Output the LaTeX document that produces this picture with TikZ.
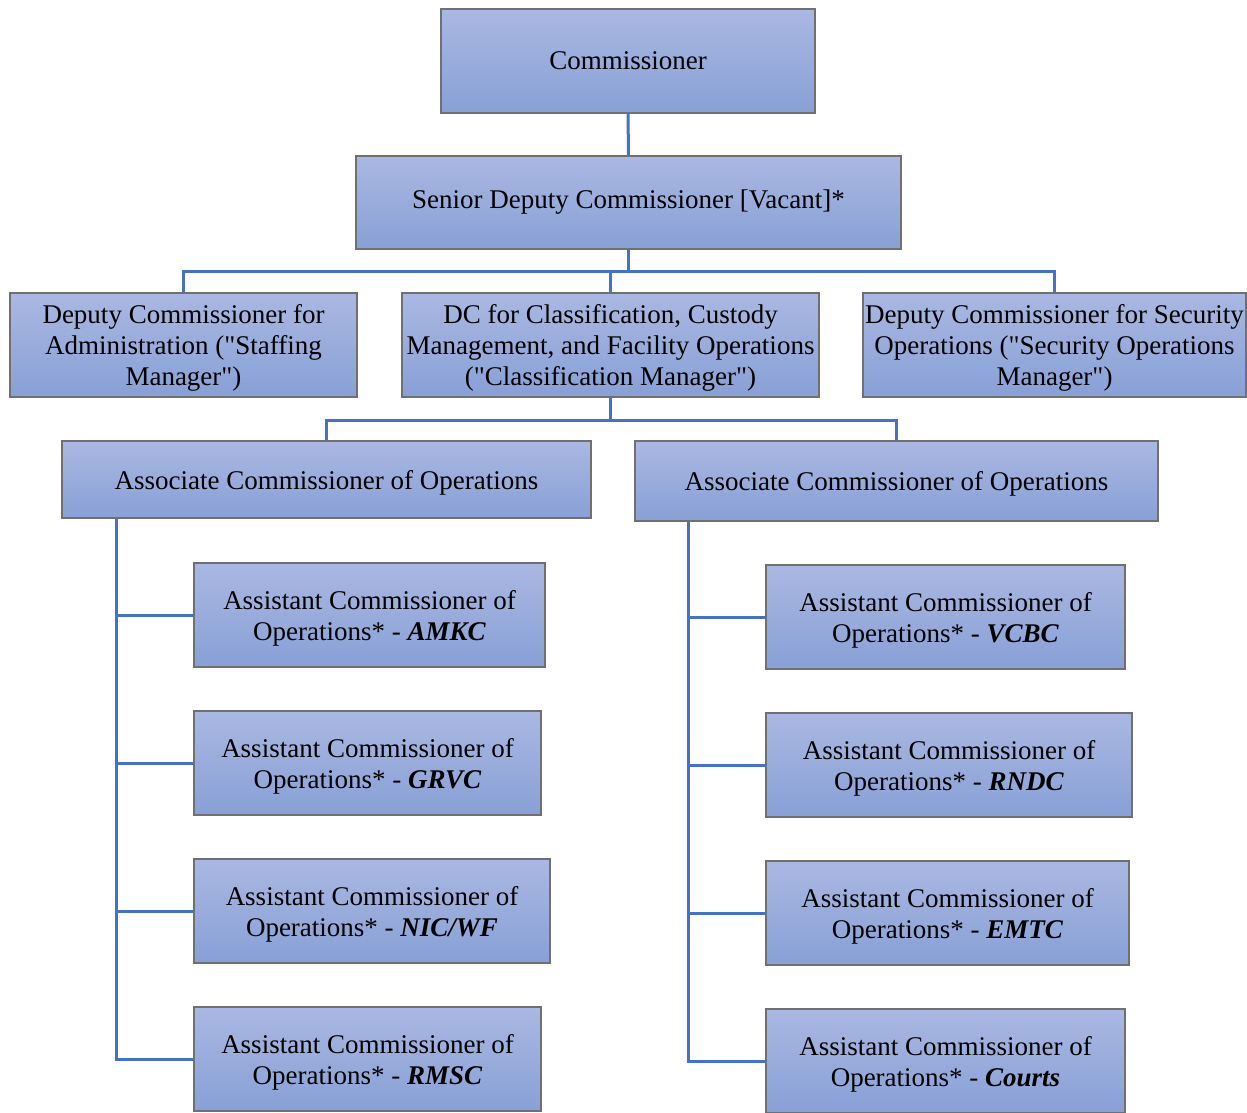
\documentclass[tikz,border=0pt]{standalone}
\usepackage{fontspec}
\setmainfont{Liberation Serif}[Ligatures=TeXOff]
\definecolor{boxtop}{HTML}{AAB8E2}
\definecolor{boxbot}{HTML}{88A0D6}
\definecolor{boxline}{HTML}{707070}
\definecolor{linkblue}{HTML}{4472C4}
\tikzset{
  orgbox/.style={draw=boxline, line width=1.2pt, top color=boxtop, bottom color=boxbot,
    align=center, inner sep=0pt, font=\fontsize{27}{31}\selectfont},
  multi/.style={text depth=0pt},
  link/.style={draw=linkblue, line width=3pt}
}
\begin{document}
\begin{tikzpicture}[x=1pt,y=-1pt]
\useasboundingbox (0,0) rectangle (1247,1112);
% level 0-1
\node[orgbox, minimum width=374pt, minimum height=104pt] (comm) at (628,61) {Commissioner};
\node[orgbox, minimum width=545pt, minimum height=93pt] (sdc) at (628.5,202.5) {Senior Deputy Commissioner [Vacant]*};
% level 2
\node[orgbox, multi, minimum width=347pt, minimum height=104pt] (dca) at (183.5,345) {Deputy Commissioner for\\Administration ("Staffing\\Manager")};
\node[orgbox, multi, minimum width=417pt, minimum height=104pt] (dcc) at (610.5,345) {DC for Classification, Custody\\Management, and Facility Operations\\("Classification Manager")};
\node[orgbox, multi, minimum width=383pt, minimum height=104pt] (dcs) at (1054.5,345) {Deputy Commissioner for Security\\Operations ("Security Operations\\Manager")};
% level 3
\node[orgbox, multi, minimum width=529pt, minimum height=77pt] (acl) at (326.5,479.5) {Associate Commissioner of Operations};
\node[orgbox, multi, minimum width=523pt, minimum height=80pt] (acr) at (896.5,481) {Associate Commissioner of Operations};
% level 4 left
\node[orgbox, multi, minimum width=351pt, minimum height=104pt] (amkc) at (369.5,615) {Assistant Commissioner of\\Operations* - \textbf{\textit{AMKC}}};
\node[orgbox, multi, minimum width=347pt, minimum height=104pt] (grvc) at (367.5,763) {Assistant Commissioner of\\Operations* - \textbf{\textit{GRVC}}};
\node[orgbox, multi, minimum width=356pt, minimum height=104pt] (nic) at (372,911) {Assistant Commissioner of\\Operations* - \textbf{\textit{NIC/WF}}};
\node[orgbox, multi, minimum width=347pt, minimum height=104pt] (rmsc) at (367.5,1059) {Assistant Commissioner of\\Operations* - \textbf{\textit{RMSC}}};
% level 4 right
\node[orgbox, multi, minimum width=359pt, minimum height=104pt] (vcbc) at (945.5,617) {Assistant Commissioner of\\Operations* - \textbf{\textit{VCBC}}};
\node[orgbox, multi, minimum width=366pt, minimum height=104pt] (rndc) at (949,765) {Assistant Commissioner of\\Operations* - \textbf{\textit{RNDC}}};
\node[orgbox, multi, minimum width=363pt, minimum height=104pt] (emtc) at (947.5,913) {Assistant Commissioner of\\Operations* - \textbf{\textit{EMTC}}};
\node[orgbox, multi, minimum width=359pt, minimum height=104pt] (courts) at (945.5,1061) {Assistant Commissioner of\\Operations* - \textbf{\textit{Courts}}};
% connectors
\draw[link] (comm.south) -- (sdc.north);
\draw[link] (sdc.south) -- ++(0,22) -| (dca.north);
\draw[link] (sdc.south) -- ++(0,22) -| (dcs.north);
\draw[link] (sdc.south) -- ++(0,22) -| (dcc.north);
\draw[link] (dcc.south) -- ++(0,23) -| (acl.north);
\draw[link] (dcc.south) -- ++(0,23) -| (acr.north);
\coordinate (lbus) at (116,0);
\coordinate (rbus) at (688,0);
\draw[link] (acl.south -| lbus) |- (amkc.west);
\draw[link] (acl.south -| lbus) |- (grvc.west);
\draw[link] (acl.south -| lbus) |- (nic.west);
\draw[link] (acl.south -| lbus) |- (rmsc.west);
\draw[link] (acr.south -| rbus) |- (vcbc.west);
\draw[link] (acr.south -| rbus) |- (rndc.west);
\draw[link] (acr.south -| rbus) |- (emtc.west);
\draw[link] (acr.south -| rbus) |- (courts.west);
\end{tikzpicture}
\end{document}
